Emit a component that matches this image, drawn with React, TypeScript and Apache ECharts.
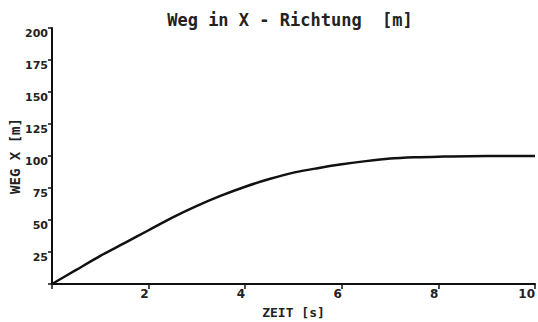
import React, { useEffect, useRef } from "react";
import * as echarts from "echarts";

const zeit = [0, 0.5, 1, 1.5, 2, 2.5, 3, 3.5, 4, 4.5, 5, 5.5, 6, 6.5, 7, 7.5, 8, 9, 10];
const weg = [0, 11, 22, 32, 42, 52, 61, 69, 76, 82, 87, 90.5, 93.5, 96, 98, 99, 99.5, 100, 100];

const titleText = "Weg in X - Richtung  [m]";
const xName = "ZEIT [s]";
const yName = "WEG X [m]";

export default function App() {
  const ref = useRef<HTMLDivElement>(null);
  useEffect(() => {
    if (!ref.current) return;
    const chart = echarts.init(ref.current, null, { renderer: "svg" });
    const font = "DejaVu Sans";
    chart.setOption({
      animation: false,
      backgroundColor: "#ffffff",
      title: {
        text: titleText,
        left: 285,
        textAlign: "center",
        top: 6,
        textStyle: { fontFamily: "DejaVu Sans Mono", fontWeight: "bold", fontSize: 17, color: "#222" },
      },
      graphic: [
        {
          type: "text",
          x: 15,
          y: 156,
          rotation: Math.PI / 2,
          style: {
            text: yName,
            fontFamily: "DejaVu Sans Mono",
            fontWeight: "bold",
            fontSize: 14,
            fill: "#222",
            align: "center",
            verticalAlign: "middle",
          },
        },
      ],
      grid: { left: 52, top: 28, right: 3, bottom: 38, containLabel: false, outerBoundsMode: "none" },
      xAxis: {
        type: "value",
        min: 0,
        max: 10,
        interval: 2,
        name: xName,
        nameLocation: "middle",
        nameGap: 22,
        nameTextStyle: { fontFamily: "DejaVu Sans Mono", fontWeight: "bold", fontSize: 13, color: "#222" },
        axisLine: { lineStyle: { color: "#111", width: 2 } },
        axisTick: { show: true, inside: false, length: 5, lineStyle: { color: "#111", width: 1.5 } },
        axisLabel: {
          fontFamily: font,
          fontWeight: "bold",
          fontSize: 12,
          color: "#222",
          align: "right",
          margin: 4,
          showMinLabel: true,
          formatter: (v: number) => (v === 0 ? "" : String(v)),
        },
        splitLine: { show: false },
      },
      yAxis: {
        type: "value",
        min: 0,
        max: 200,
        interval: 25,
        axisLine: { show: true, lineStyle: { color: "#111", width: 2 } },
        axisTick: { show: true, inside: false, length: 4, lineStyle: { color: "#111", width: 1.5 } },
        axisLabel: {
          fontFamily: font,
          fontWeight: "bold",
          fontSize: 11,
          color: "#222",
          verticalAlign: "top",
          margin: 4,
          formatter: (v: number) => (v === 0 ? "" : String(v)),
        },
        splitLine: { show: false },
      },
      series: [
        {
          type: "line",
          data: zeit.map((t, i) => [t, weg[i]]),
          smooth: 0.3,
          showSymbol: false,
          lineStyle: { color: "#111", width: 2.5 },
        },
      ],
    });
    return () => chart.dispose();
  }, []);
  return (
    <div
      ref={ref}
      style={{ position: "absolute", left: 0, top: 0, width: 538, height: 322 }}
    />
  );
}
